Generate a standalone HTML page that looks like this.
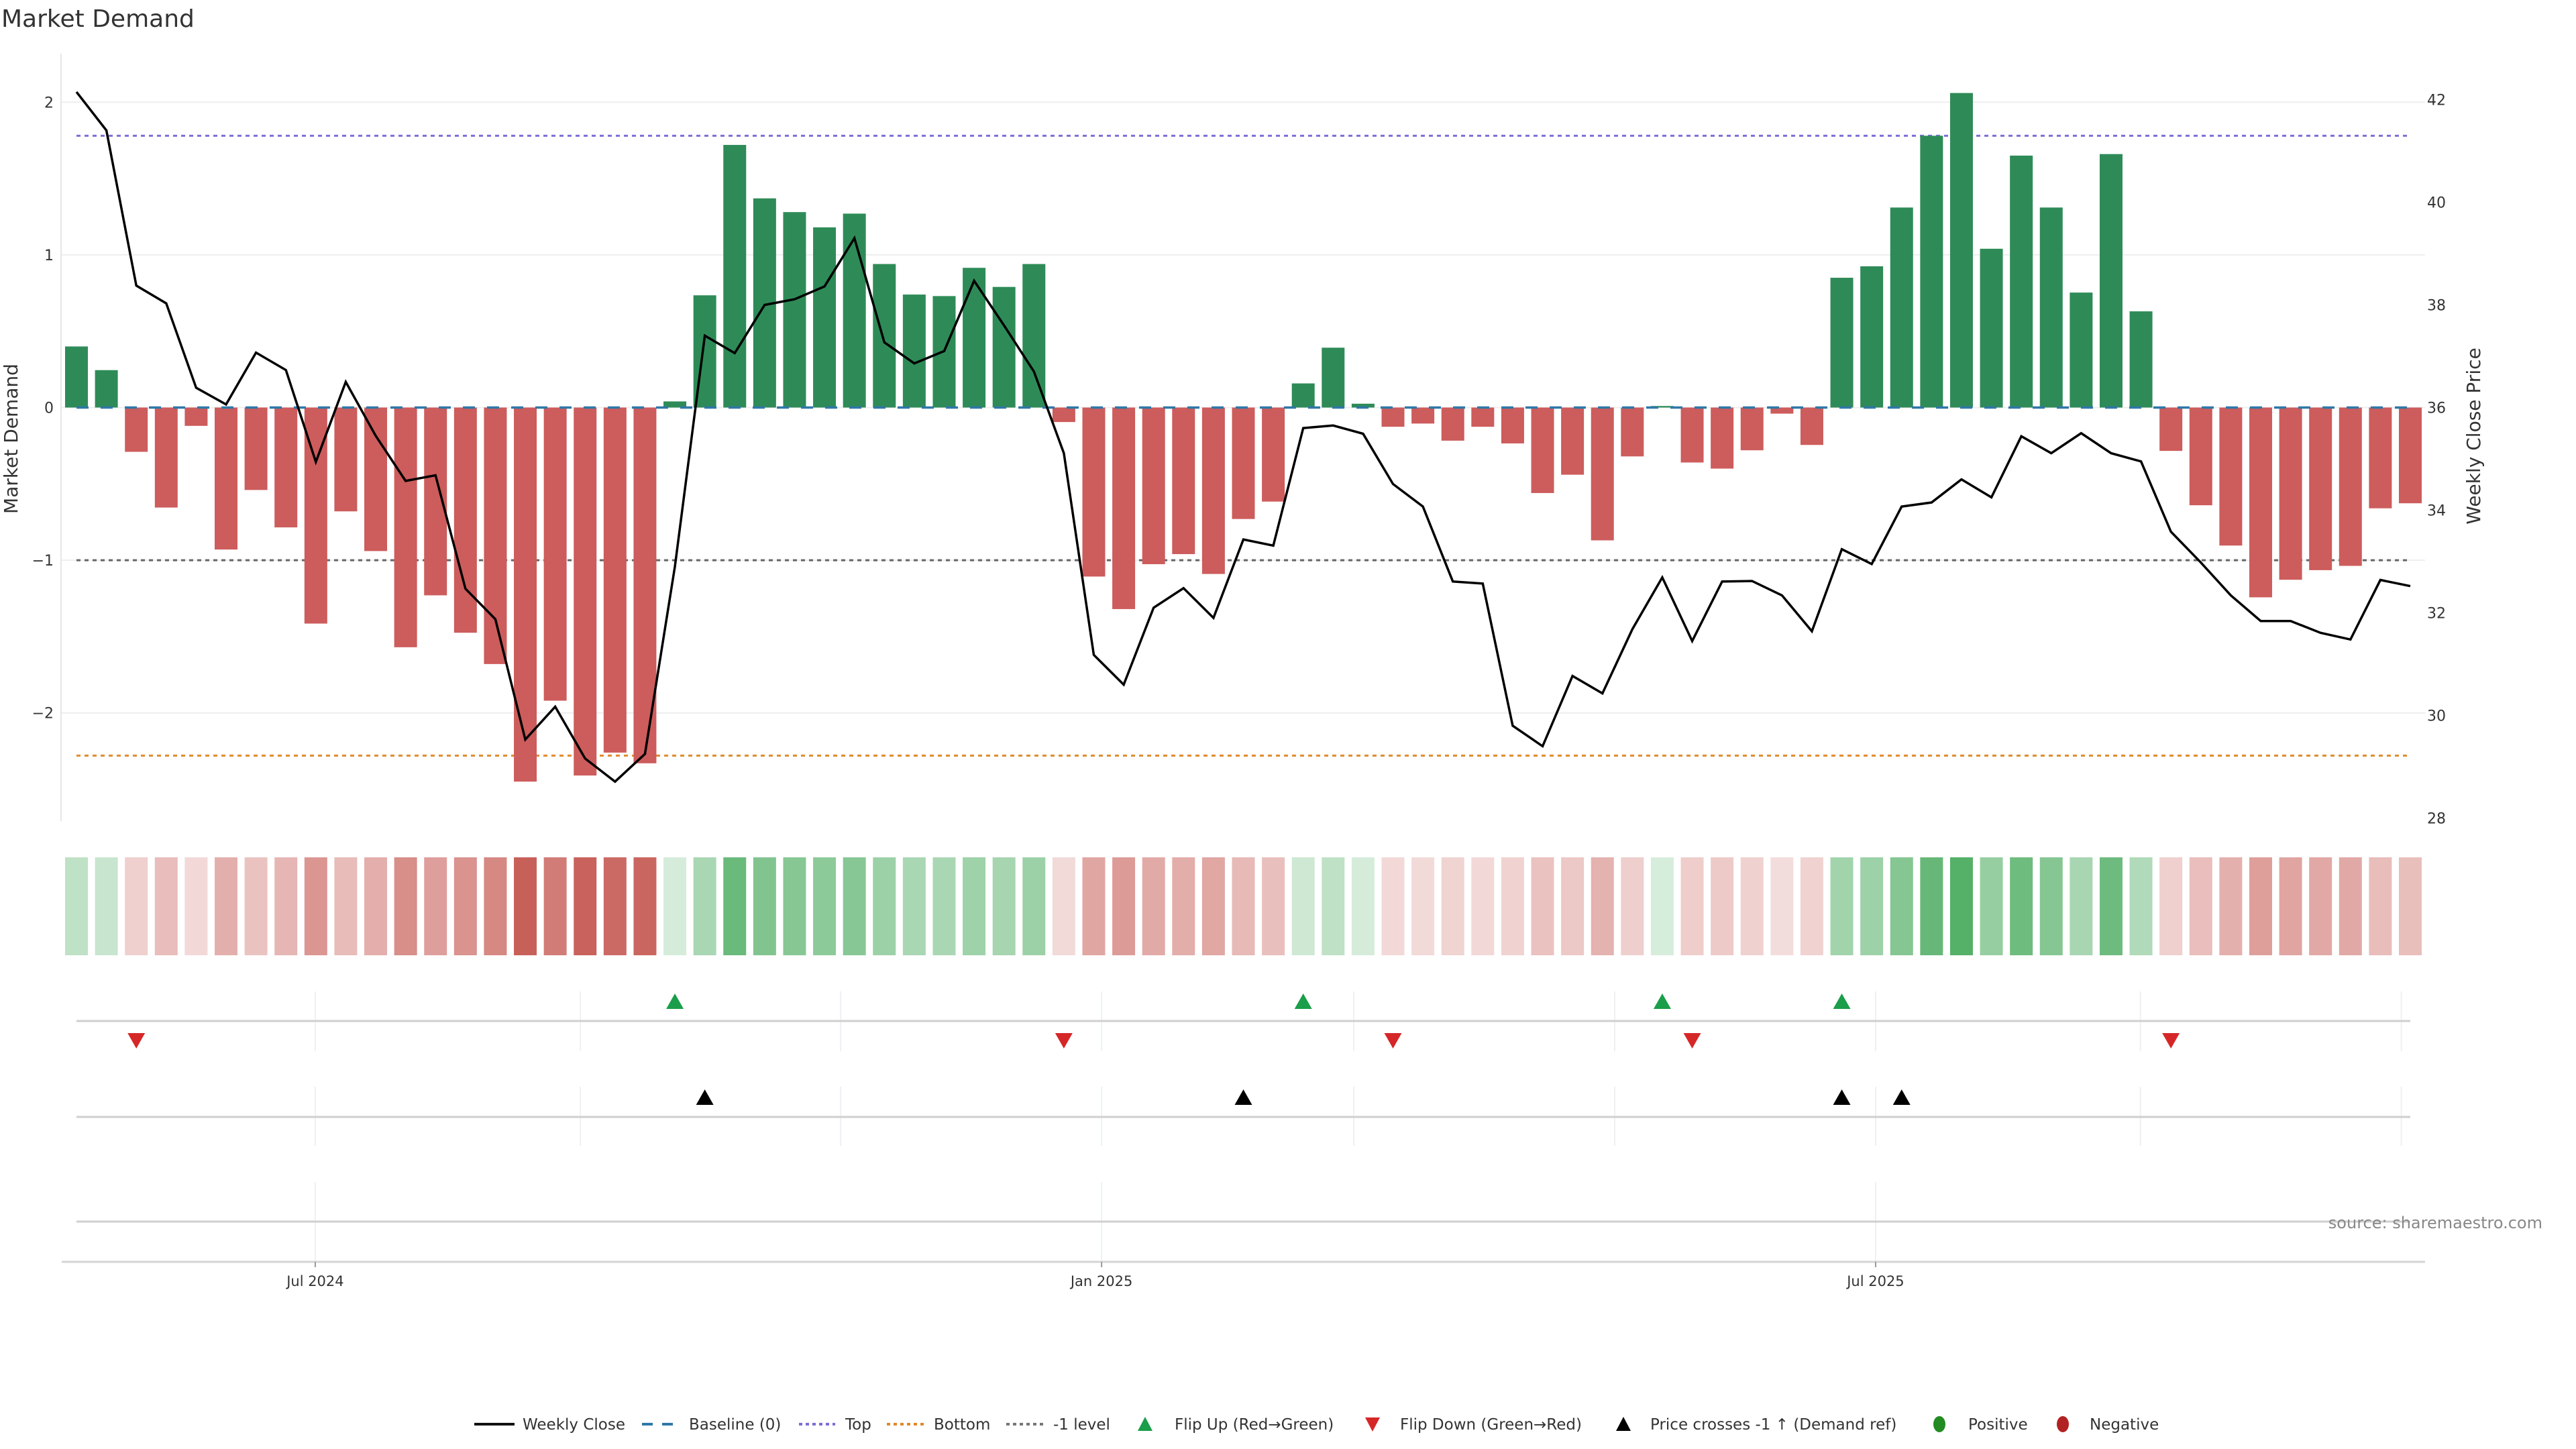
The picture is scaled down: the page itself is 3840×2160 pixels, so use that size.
<!DOCTYPE html>
<html><head><meta charset="utf-8"><title>Market Demand</title>
<style>
html,body{margin:0;padding:0;background:#fff;}
svg{display:block;font-family:"DejaVu Sans","Liberation Sans",sans-serif;}
</style></head>
<body>
<svg id="chart" width="3840" height="2160" viewBox="0 0 3840 2160" xmlns="http://www.w3.org/2000/svg">
<rect width="3840" height="2160" fill="#fff"/>
<text x="2" y="40" font-size="36" fill="#333">Market Demand</text>
<g id="grid"></g><g id="refs"></g><g id="bars"></g><g id="price"></g><g id="heat"></g><g id="panels"></g><g id="axes"></g><g id="legend"></g>
<text x="3790" y="1831" font-size="24" fill="#888" text-anchor="end">source: sharemaestro.com</text>
</svg>
<script>
const weeks = 79;
const demand = [0.40,0.245,-0.29,-0.655,-0.12,-0.93,-0.54,-0.785,-1.415,-0.68,-0.94,-1.57,-1.23,-1.475,-1.68,-2.45,-1.92,-2.41,-2.26,-2.33,
0.04,0.735,1.72,1.37,1.28,1.18,1.27,0.94,0.74,0.73,0.915,0.79,0.94,-0.095,-1.107,-1.32,-1.026,-0.96,-1.09,-0.73,
-0.616,0.158,0.392,0.025,-0.126,-0.105,-0.217,-0.126,-0.235,-0.56,-0.44,-0.87,-0.32,0.01,-0.36,-0.40,-0.28,-0.04,-0.245,0.85,
0.925,1.31,1.78,2.06,1.04,1.65,1.31,0.753,1.66,0.63,-0.284,-0.64,-0.904,-1.243,-1.128,-1.065,-1.037,-0.66,-0.627];
const price = [42.15,41.4,38.375,38.03,36.385,36.06,37.07,36.73,34.94,36.5,35.45,34.57,34.68,32.47,31.875,29.53,30.17,29.16,28.71,29.25,
32.9,37.4,37.06,38.0,38.11,38.36,39.3,37.27,36.86,37.1,38.47,37.6,36.7,35.11,31.18,30.6,32.1,32.48,31.9,33.43,
33.31,35.6,35.65,35.49,34.51,34.07,32.61,32.57,29.8,29.4,30.77,30.43,31.68,32.69,31.45,32.61,32.62,32.34,31.64,33.24,
32.95,34.07,34.15,34.6,34.25,35.44,35.11,35.5,35.11,34.95,33.58,32.98,32.34,31.84,31.84,31.61,31.48,32.64,32.52];
const priceCrossIdx = [21,39,59,61];
const demandTicks = [-2,-1,0,1,2];
const priceTicks = [28,30,32,34,36,38,40,42];
const topLevel = 1.78, bottomLevel = -2.28, minusLevel = -1;
const xTickLabels = ["Jul 2024","Jan 2025","Jul 2025"];
const xTickWeeks = [7.98,34.26,60.13];
const monthGridWeeks = [7.98,16.84,25.54,34.26,42.69,51.41,60.13,68.98,77.7];

const NS="http://www.w3.org/2000/svg";
function el(tag,attrs,parent,text){const e=document.createElementNS(NS,tag);for(const k in attrs)e.setAttribute(k,attrs[k]);if(text!==undefined)e.textContent=text;parent.appendChild(e);return e;}
const X0=114,X1=3593;
function xW(i){return X0+i*(X1-X0)/(weeks-1);}
function yD(v){return 607.5-v*227.6;}
function yP(p){return 607.5-(p-36)*76.5;}
const G=id=>document.getElementById(id);

const grid=G('grid');
demandTicks.forEach(t=>{
  const l=el('line',{x1:91,x2:3615,y1:yD(t),y2:yD(t),stroke:'#eeeeee','stroke-width':2},grid);
  
  
  const tx=el('text',{x:80,y:yD(t)+8,'font-size':22,fill:'#333','text-anchor':'end'},grid,(t<0?'\u2212':'')+Math.abs(t));
  
  
});
priceTicks.forEach(t=>{
  const tx=el('text',{x:3618,y:yP(t)+8,'font-size':22,fill:'#333'},grid,String(t));
  
  
});
const ax=el('line',{x1:91,x2:91,y1:80,y2:1224,stroke:'#e6e6e6','stroke-width':2},grid);


const lt=el('text',{x:0,y:0,'font-size':28,fill:'#333','text-anchor':'middle',transform:'translate(26,654) rotate(-90)'},grid,'Market Demand');


const rt=el('text',{x:0,y:0,'font-size':28,fill:'#333','text-anchor':'middle',transform:'translate(3697,650) rotate(-90)'},grid,'Weekly Close Price');



const bars=G('bars');const bw=34;
demand.forEach((v,i)=>{
  const y=Math.min(yD(v),yD(0)),h=Math.abs(yD(v)-yD(0));
  const r=el('rect',{x:xW(i)-bw/2,y:y,width:bw,height:Math.max(h,0.5),fill:v>=0?'#2e8b57':'#cd5c5c'},bars);
  
  
});
const refs=G('refs');
function refLine(v,color,dash,name,w){const l=el('line',{x1:X0,x2:X1,y1:yD(v),y2:yD(v),stroke:color,'stroke-width':w||3,'stroke-dasharray':dash},name==='baseline'?bars:refs);
  
  }
refLine(topLevel,'#7b6fd6','6 6','top-level-line');
refLine(bottomLevel,'#e08a2c','6 6','bottom-level-line');
refLine(minusLevel,'#666','6 6','minus-one-level-line');
refLine(0,'#2f77a8','18 18','baseline',3.5);

const pl=el('polyline',{points:price.map((p,i)=>xW(i)+','+yP(p)).join(' '),fill:'none',stroke:'#000','stroke-width':3.5,'stroke-linejoin':'miter'},G('price'));



const heat=G('heat');const maxAbs=Math.max(...demand.map(Math.abs));
demand.forEach((v,i)=>{
  const a=0.2+0.8*Math.abs(v)/maxAbs;const base=v>=0?[60,164,82]:[200,96,90];
  const c=base.map(b=>Math.round(b*a+255*(1-a)));
  const r=el('rect',{x:xW(i)-bw/2,y:1278,width:bw,height:146,fill:`rgb(${c.join(',')})`},heat);
  
  
});

const pn=G('panels');
function vgrid(y1,y2){monthGridWeeks.forEach(w=>{const l=el('line',{x1:xW(w),x2:xW(w),y1:y1,y2:y2,stroke:'#eef0f2','stroke-width':2},pn);
  
  });}
vgrid(1478,1567);vgrid(1620,1708);
xTickWeeks.forEach(w=>{const l=el('line',{x1:xW(w),x2:xW(w),y1:1762,y2:1881,stroke:'#eef0f2','stroke-width':2},pn);
  
  });
[1522,1665,1821].forEach(y=>{const l=el('line',{x1:X0,x2:X1,y1:y,y2:y,stroke:'#cfcfcf','stroke-width':3},pn);
  
  });
function tri(cx,cy,up,color,name){const s=13;const pts=up?`${cx-s},${cy+11} ${cx+s},${cy+11} ${cx},${cy-12}`:`${cx-s},${cy-11} ${cx+s},${cy-11} ${cx},${cy+12}`;
  const t=el('polygon',{points:pts,fill:color},pn);
  
  }
for(let i=1;i<weeks;i++){
  if(demand[i]>0&&demand[i-1]<=0)tri(xW(i),1493,true,'#1a9e4a','flip-up-marker');
  if(demand[i]<=0&&demand[i-1]>0)tri(xW(i),1551,false,'#d62728','flip-down-marker');
}
priceCrossIdx.forEach(i=>tri(xW(i),1636,true,'#000','price-cross-marker'));

const axes=G('axes');
const xl=el('line',{x1:92,x2:3615,y1:1881,y2:1881,stroke:'#d4d4d4','stroke-width':3},axes);


xTickWeeks.forEach((w,k)=>{
  const t=el('line',{x1:xW(w),x2:xW(w),y1:1881,y2:1889,stroke:'#999','stroke-width':2},axes);
  
  
  const tx=el('text',{x:xW(w),y:1917,'font-size':21,fill:'#333','text-anchor':'middle'},axes,xTickLabels[k]);
  
  
});

const lg=G('legend');const LY=2123;
function ltext(x,s){const t=el('text',{x:x,y:LY+8,'font-size':23,fill:'#333'},lg,s);
  
  }
function lline(x1,x2,color,dash,w){const l=el('line',{x1:x1,x2:x2,y1:LY,y2:LY,stroke:color,'stroke-width':w,'stroke-dasharray':dash},lg);
  
  }
lline(707,767,'#111','none',4);ltext(779,'Weekly Close');
lline(957,1003,'#2f77a8','16 14',4);ltext(1027,'Baseline (0)');
lline(1191,1245,'#7b6fd6','5 5',4);ltext(1260,'Top');
lline(1322,1377,'#e08a2c','5 5',4);ltext(1392,'Bottom');
lline(1500,1555,'#777','5 5',4);ltext(1570,'-1 level');
function ltri(cx,up,color){const s=11;const pts=up?`${cx-s},${LY+10} ${cx+s},${LY+10} ${cx},${LY-11}`:`${cx-s},${LY-10} ${cx+s},${LY-10} ${cx},${LY+11}`;
  const t=el('polygon',{points:pts,fill:color},lg);
  
  }
ltri(1707,true,'#1a9e4a');ltext(1751,'Flip Up (Red\u2192Green)');
ltri(2046,false,'#d62728');ltext(2087,'Flip Down (Green\u2192Red)');
ltri(2420,true,'#000');ltext(2460,'Price crosses -1 \u2191 (Demand ref)');
function ldot(cx,color){const c=el('ellipse',{cx:cx,cy:LY,rx:9,ry:12,fill:color},lg);
  
  }
ldot(2891,'#228b22');ltext(2934,'Positive');
ldot(3075,'#b22222');ltext(3115,'Negative');
</script>
</body></html>
